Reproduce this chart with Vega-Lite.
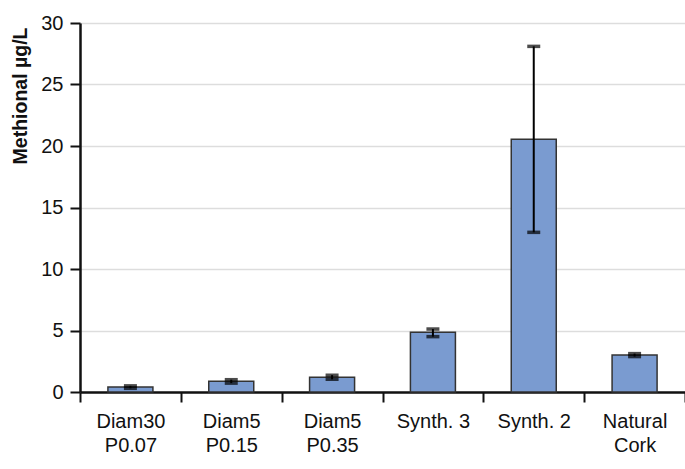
{
  "$schema": "https://vega.github.io/schema/vega-lite/v6.json",
  "autosize": {"type": "none"},
  "padding": {"left": 80, "top": 23, "right": 0, "bottom": 77},
  "width": 605,
  "height": 369,
  "background": "white",
  "data": {
    "values": [
      {"sample": "Diam30\nP0.07", "mean": 0.4, "lo": 0.3, "hi": 0.5},
      {"sample": "Diam5\nP0.15", "mean": 0.87, "lo": 0.72, "hi": 1.0},
      {"sample": "Diam5\nP0.35", "mean": 1.2, "lo": 1.03, "hi": 1.37},
      {"sample": "Synth. 3", "mean": 4.85, "lo": 4.5, "hi": 5.12},
      {"sample": "Synth. 2", "mean": 20.55, "lo": 12.98, "hi": 28.1},
      {"sample": "Natural\nCork", "mean": 3.0, "lo": 2.88, "hi": 3.12}
    ]
  },
  "config": {
    "view": {"stroke": null},
    "font": "Liberation Sans",
    "axis": {"labelFont": "Liberation Sans", "titleFont": "Liberation Sans"}
  },
  "encoding": {
    "x": {
      "field": "sample",
      "type": "nominal",
      "sort": null,
      "scale": {"paddingInner": 0, "paddingOuter": 0},
      "axis": {
        "title": null,
        "labelAngle": 0,
        "labelExpr": "split(datum.label, '\\n')",
        "labelFontSize": 20,
        "labelColor": "#111",
        "labelPadding": 9,
        "labelLineHeight": 24,
        "tickBand": "extent",
        "tickSize": 10,
        "tickWidth": 2,
        "tickColor": "#111",
        "domainColor": "#111",
        "domainWidth": 2.5,
        "grid": false
      }
    }
  },
  "layer": [
    {
      "mark": {"type": "bar", "width": 45, "color": "#7a9bd0", "stroke": "#333", "strokeWidth": 1.5},
      "encoding": {
        "y": {
          "field": "mean",
          "type": "quantitative",
          "scale": {"domain": [0, 30], "nice": false},
          "axis": {
            "values": [0, 5, 10, 15, 20, 25, 30],
            "title": "Methional µg/L",
            "titleFontSize": 19.5,
            "titleFontWeight": "bold",
            "titleColor": "#111",
            "titleAnchor": "end",
            "titlePadding": 10,
            "titleY": 4,
            "labelFontSize": 20,
            "labelColor": "#111",
            "labelPadding": 7,
            "tickSize": 10,
            "tickWidth": 2,
            "tickColor": "#111",
            "domainColor": "#111",
            "domainWidth": 2.5,
            "gridColor": "#dddddd",
            "gridWidth": 1.5,
            "zindex": 0
          }
        }
      }
    },
    {
      "mark": {"type": "rule", "color": "#000", "strokeWidth": 2},
      "encoding": {
        "y": {"field": "lo", "type": "quantitative"},
        "y2": {"field": "hi"}
      }
    },
    {
      "mark": {"type": "tick", "color": "#000", "size": 13, "thickness": 3.5},
      "encoding": {"y": {"field": "lo", "type": "quantitative"}}
    },
    {
      "mark": {"type": "tick", "color": "#000", "size": 13, "thickness": 3.5},
      "encoding": {"y": {"field": "hi", "type": "quantitative"}}
    }
  ]
}
